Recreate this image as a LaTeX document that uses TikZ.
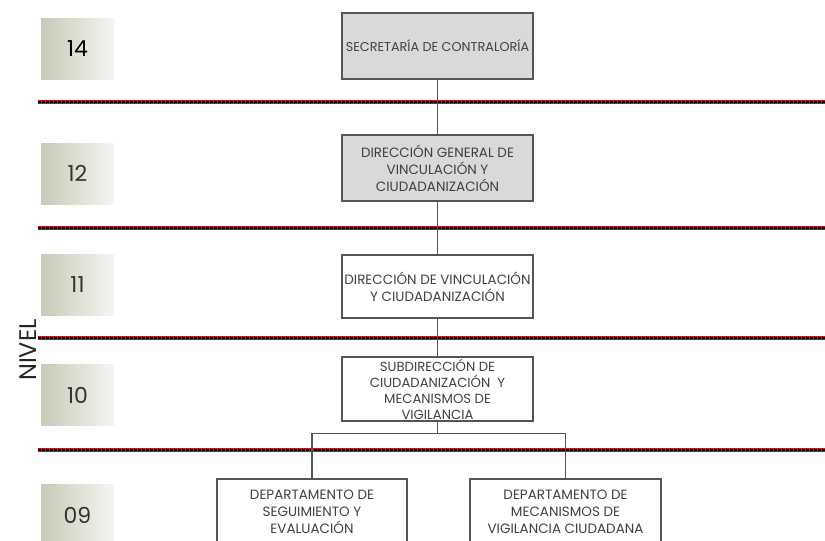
\documentclass[tikz,border=0pt]{standalone}
\usepackage{fontspec}
\setmainfont{Poppins}
\usepackage{tikz}

\definecolor{lvlolive}{RGB}{199,202,181}
\definecolor{lvlwhite}{RGB}{245,245,243}
\definecolor{boxgray}{RGB}{217,217,217}
\definecolor{rulered}{RGB}{185,18,32}
\definecolor{linegray}{RGB}{85,85,85}

\begin{document}
\begin{tikzpicture}[x=1pt,y=-1pt,
    unit/.style={draw=linegray, line width=1.3pt, minimum width=191pt, minimum height=66pt,
        inner sep=0pt, align=center, text=black!75, font=\fontsize{13.5}{17}\selectfont},
    head/.style={unit, fill=boxgray},
    lvl/.style={minimum width=73pt, minimum height=61pt, inner sep=0pt,
        left color=lvlolive, right color=lvlwhite, text=black!80, font=\fontsize{22}{22}\selectfont},
    link/.style={draw=linegray, line width=1.3pt}]

        \useasboundingbox (0,0) rectangle (825,541);
        \clip (0,0) rectangle (825,541);

        % niveles
        \node[lvl, text=black] (n14) at (77.5,48.5) {14};
        \node[lvl] (n12) at (77.5,173.5) {12};
        \node[lvl] (n11) at (77.5,285) {11};
        \node[lvl] (n10) at (77.5,395) {10};
        \node[lvl] (n09) at (77.5,515) {09};
        \node[rotate=90, text=black!85, font=\fontsize{24}{24}\selectfont] (nivel) at (28,350) {NIVEL};

        \foreach \y in {102,228,338,450} {
            \draw [rulered, line width=4pt] (38,\y) -- (825,\y);
            \draw [black, line width=2pt, dash pattern=on 2.5pt off 1.5pt] (38,\y) -- (825,\y);
        }

        % organigrama
        \node[head, font=\fontsize{12.8}{17}\selectfont] (sec) at (437.5,46) {SECRETARÍA DE CONTRALORÍA};
        \node[head] (dgv) at (437.5,168) {DIRECCIÓN GENERAL DE\\VINCULACIÓN Y\\CIUDADANIZACIÓN};
        \node[unit, minimum height=63pt] (dv) at (437.5,286.5) {DIRECCIÓN DE VINCULACIÓN\\Y CIUDADANIZACIÓN};
        \node[unit, minimum height=64pt, font=\fontsize{13.2}{16}\selectfont] (sub) at (437.5,389)
            {SUBDIRECCIÓN DE\\CIUDADANIZACIÓN~~Y\\MECANISMOS DE\\VIGILANCIA};
        \node[unit, minimum width=190pt] (seg) at (312,512) {DEPARTAMENTO DE\\SEGUIMIENTO Y\\EVALUACIÓN};
        \node[unit] (mec) at (565.5,512) {DEPARTAMENTO DE\\MECANISMOS DE\\VIGILANCIA CIUDADANA};

        \draw[link] (sec) -- (dgv);
        \draw[link] (dgv) -- (dv);
        \draw[link] (dv) -- (sub);
        \draw[link] (sub.south) -- ++(0,12) coordinate (fork);
        \draw[link] (fork) -| (seg);
        \draw[link] (fork) -| (mec);

\end{tikzpicture}
\end{document}
